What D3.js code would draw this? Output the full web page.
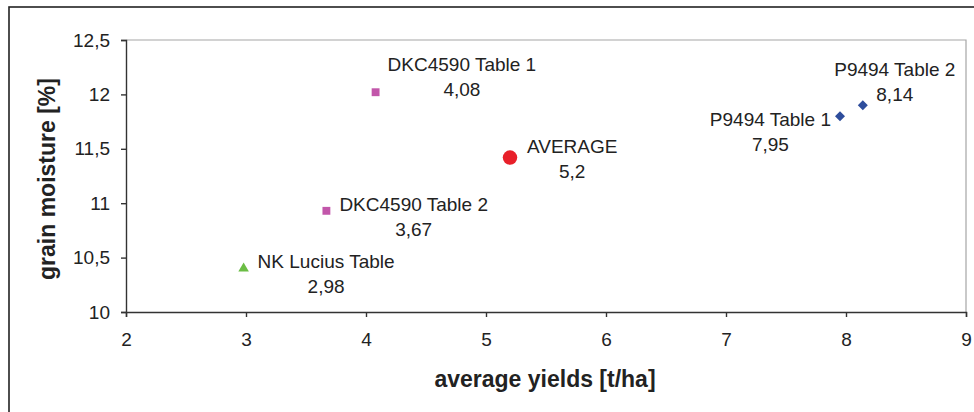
<!DOCTYPE html>
<html>
<head>
<meta charset="utf-8">
<script src="https://cdn.jsdelivr.net/npm/d3@7"></script>
<style>
  body { margin: 0; background: #fff; }
  text { font-family: "Liberation Sans", Arial, sans-serif; fill: #222; }
</style>
</head>
<body>
<div id="canvas"></div>
<script>
// chart data
const names = ["NK Lucius Table", "DKC4590 Table 2", "DKC4590 Table 1", "AVERAGE", "P9494 Table 1", "P9494 Table 2"];
const yields = [2.98, 3.67, 4.08, 5.2, 7.95, 8.14];
const moisture = [10.40, 10.93, 12.02, 11.42, 11.80, 11.90];
const valueLabels = ["2,98", "3,67", "4,08", "5,2", "7,95", "8,14"];
const groups = ["nk", "dkc", "dkc", "avg", "p", "p"];
const labelSide = ["right", "right", "aboveRight", "right", "left", "above"];
const xTicks = [2, 3, 4, 5, 6, 7, 8, 9];
const yTicks = [10, 10.5, 11, 11.5, 12, 12.5];

const width = 974;
const height = 412;
const margin = { top: 40, left: 126, bottom: 100, right: 8 };

const svg = d3.select("#canvas").append("svg")
  .attr("width", width)
  .attr("height", height);

// outer frame
svg.append("rect")
  .attr("x", 9).attr("y", 7)
  .attr("width", width + 20).attr("height", height + 20)
  .attr("fill", "none").attr("stroke", "#222").attr("stroke-width", 1.6);

const g = svg.append("g").attr("transform", `translate(${margin.left},${margin.top})`);

const x = d3.scaleLinear().domain([2, 9]).range([0, 840]);
const y = d3.scaleLinear().domain([10, 12.5]).range([272, 0]);

// plot border (top / right)
g.append("path")
  .attr("d", `M0,0H${x(9)}V${y(10)}`)
  .attr("fill", "none").attr("stroke", "#a6a6a6").attr("stroke-width", 1.2);

const fmt = (d) => String(d).replace(".", ",");

const xAxis = g.append("g")
  .attr("transform", `translate(0,${y(10)})`)
  .call(d3.axisBottom(x).tickValues(xTicks).tickFormat(fmt).tickSize(5).tickPadding(16));
const yAxis = g.append("g")
  .call(d3.axisLeft(y).tickValues(yTicks).tickFormat(fmt).tickSize(5).tickPadding(11));

[xAxis, yAxis].forEach((ax) => {
  ax.selectAll("path, line").attr("stroke", "#333").attr("stroke-width", 1.4);
  ax.selectAll("text").style("font-size", "19px").attr("fill", "#222")
    .style("font-family", "Liberation Sans, Arial, sans-serif");
});

const color = { nk: "#6bbd45", dkc: "#c256aa", avg: "#e8202a", p: "#2e4d9c" };
const symbol = {
  nk: d3.symbol().type(d3.symbolTriangle).size(48),
  dkc: d3.symbol().type(d3.symbolSquare).size(62),
  avg: d3.symbol().type(d3.symbolCircle).size(165),
  p: d3.symbol().type(d3.symbolSquare).size(50),
};
const gap = { nk: 14, dkc: 13, avg: 17, p: 9 };

const data = names.map((n, i) => ({
  name: n, x: yields[i], y: moisture[i], label: valueLabels[i], group: groups[i], side: labelSide[i],
}));

g.selectAll("path.pt").data(data).enter().append("path")
  .attr("class", "pt")
  .attr("transform", (d) => `translate(${x(d.x)},${y(d.y)})` + (d.group === "p" ? " rotate(45)" : ""))
  .attr("d", (d) => symbol[d.group]())
  .attr("fill", (d) => color[d.group]);

// labels: name line + value line, centred as a block
const lbl = g.selectAll("g.lbl").data(data).enter().append("g")
  .attr("class", "lbl")
  .attr("transform", (d) => `translate(${x(d.x)},${y(d.y)})`);

lbl.each(function (d) {
  const sel = d3.select(this);
  const t1 = sel.append("text").text(d.name).style("font-size", "19px");
  const w = t1.node().getComputedTextLength();
  const gp = gap[d.group];
  let cx, y1;
  if (d.side === "right") { cx = gp + w / 2; y1 = d.group === "avg" ? -5 : 0; }
  else if (d.side === "left") { cx = -gp - w / 2; y1 = 10; }
  else if (d.side === "aboveRight") { cx = gp + w / 2 - 1; y1 = -21; }
  else { cx = 32; y1 = -29; }
  t1.attr("x", cx).attr("y", y1).attr("text-anchor", "middle");
  sel.append("text").text(d.label).style("font-size", "19px")
    .attr("x", cx).attr("y", y1 + 25).attr("text-anchor", "middle");
});

// axis titles
svg.append("text")
  .attr("x", 545).attr("y", 387)
  .attr("text-anchor", "middle")
  .style("font-size", "23px").style("font-weight", "bold")
  .text("average yields [t/ha]");

svg.append("text")
  .attr("transform", "translate(55,179) rotate(-90)")
  .attr("text-anchor", "middle")
  .style("font-size", "23px").style("font-weight", "bold")
  .text("grain moisture [%]");
</script>
</body>
</html>
